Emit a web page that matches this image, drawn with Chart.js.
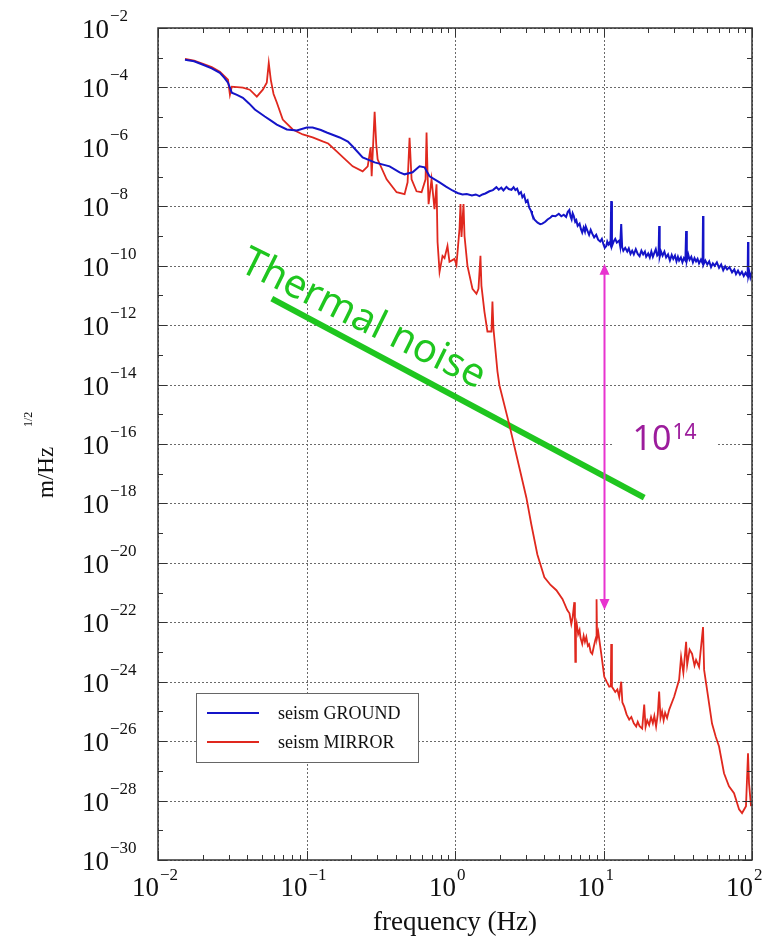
<!DOCTYPE html>
<html>
<head>
<meta charset="utf-8">
<script src="https://cdn.jsdelivr.net/npm/chart.js@4.4.0/dist/chart.umd.min.js"></script>
<style>
  body { margin: 0; background: #fff; }
  #wrap { width: 772px; height: 949px; }
</style>
</head>
<body>
<div id="wrap"><canvas id="seismChart" width="772" height="949"></canvas></div>
<script>
// tick exponents (powers of ten)
const xTickExps = [-2, -1, 0, 1, 2];
const yTickExps = [-2, -4, -6, -8, -10, -12, -14, -16, -18, -20, -22, -24, -26, -28, -30];

// seism GROUND
const groundFreq = [0.0152, 0.0175, 0.0201, 0.023, 0.0261, 0.028, 0.0296, 0.0314, 0.034, 0.0373, 0.041, 0.0449, 0.0524, 0.058, 0.0631, 0.0737, 0.086, 0.1004, 0.11, 0.125, 0.1368, 0.1673, 0.19, 0.2047, 0.2388, 0.2876, 0.3629, 0.4236, 0.4575, 0.5179, 0.5772, 0.6237, 0.674, 0.787, 0.87, 0.962, 1.04, 1.123, 1.2, 1.3, 1.38, 1.461, 1.53, 1.6, 1.706, 1.8, 1.9, 1.97, 2.05, 2.12, 2.22, 2.3, 2.4, 2.48, 2.55, 2.62, 2.7, 2.78, 2.843, 2.92, 3.0, 3.08, 3.162, 3.25, 3.3, 3.42, 3.6, 3.75, 3.873, 4.05, 4.2, 4.4, 4.52, 4.75, 5.0, 5.2, 5.4, 5.6, 5.75, 5.89, 6.0, 6.1, 6.2, 6.3, 6.45, 6.56, 6.7, 6.9, 7.05, 7.19, 7.35, 7.5, 7.6, 7.8, 8.0, 8.2, 8.4, 8.65, 8.93, 9.2, 9.5, 9.75, 10.0, 10.2, 10.44, 10.6, 10.8, 11.0, 11.15, 11.27, 11.4, 11.7, 12.0, 12.3, 12.76, 12.95, 13.16, 13.35, 13.6, 14.0, 14.45, 14.8, 15.2, 15.6, 16.0, 16.5, 17.0, 17.5, 18.0, 18.5, 19.0, 19.38, 20.0, 20.5, 21.0, 21.5, 22.0, 22.5, 23.0, 23.5, 23.7, 23.9, 24.4, 25.0, 25.7, 26.4, 27.2, 28.0, 28.8, 29.5, 30.3, 31.0, 31.7, 32.3, 33.2, 34.0, 34.8, 35.6, 36.0, 36.4, 37.2, 38.0, 39.0, 40.0, 41.0, 42.0, 43.0, 44.0, 45.3, 46.5, 46.8, 47.1, 48.5, 50.0, 51.5, 53.0, 54.5, 56.0, 58.0, 60.0, 62.0, 64.0, 66.0, 68.0, 70.5, 73.4, 76.0, 78.0, 80.5, 83.0, 85.5, 88.0, 90.5, 93.5, 94.0, 94.6, 96.0, 97.5, 99.0, 100];
const groundAmp = [8.5e-4, 7.6e-4, 5.8e-4, 4.4e-4, 3.1e-4, 2.1e-4, 1.44e-4, 6.65e-5, 5.6e-5, 4.5e-5, 2.9e-5, 1.8e-5, 1.05e-5, 7.5e-6, 5.64e-6, 3.84e-6, 3.56e-6, 4.48e-6, 4.48e-6, 3.7e-6, 3.05e-6, 2.07e-6, 1.5e-6, 1.03e-6, 4.43e-7, 3.0e-7, 2.21e-7, 1.39e-7, 1.19e-7, 1.39e-7, 2.21e-7, 2.05e-7, 1.02e-7, 6.4e-8, 4.6e-8, 3.4e-8, 2.8e-8, 2.5e-8, 2.6e-8, 2.3e-8, 2.5e-8, 2.2e-8, 2.5e-8, 2.7e-8, 3.2e-8, 3.5e-8, 4.4e-8, 3.6e-8, 4.2e-8, 3.4e-8, 4.5e-8, 3.8e-8, 3.6e-8, 4.4e-8, 3.5e-8, 3.9e-8, 2.6e-8, 3.0e-8, 2.0e-8, 2.4e-8, 1.4e-8, 1.6e-8, 9.0e-9, 7.0e-9, 5.5e-9, 3.6e-9, 2.8e-9, 2.5e-9, 2.6e-9, 3.0e-9, 3.6e-9, 4.2e-9, 4.8e-9, 4.6e-9, 5.6e-9, 4.6e-9, 5.2e-9, 4.4e-9, 6.5e-9, 7.5e-9, 4.5e-9, 3.6e-9, 5.8e-9, 4.8e-9, 3.0e-9, 3.4e-9, 2.2e-9, 2.6e-9, 1.7e-9, 1.3e-9, 1.9e-9, 1.4e-9, 2.1e-9, 1.5e-9, 1.1e-9, 1.6e-9, 1.2e-9, 9.0e-10, 1.1e-9, 7.5e-10, 6.5e-10, 8.0e-10, 5.2e-10, 4.0e-10, 4.6e-10, 6.5e-10, 5.2e-10, 6.0e-10, 5.0e-10, 1.49e-8, 4.6e-10, 6.5e-10, 8.0e-10, 6.0e-10, 7.0e-10, 4.6e-10, 2.53e-9, 4.2e-10, 3.2e-10, 4.0e-10, 3.0e-10, 3.8e-10, 2.5e-10, 3.2e-10, 2.4e-10, 3.6e-10, 2.5e-10, 2.1e-10, 3.2e-10, 2.4e-10, 3.0e-10, 2.0e-10, 2.6e-10, 1.9e-10, 3.0e-10, 2.0e-10, 2.7e-10, 3.6e-10, 2.2e-10, 2.5e-10, 2.17e-9, 2.0e-10, 3.0e-10, 2.2e-10, 3.0e-10, 1.9e-10, 2.4e-10, 1.5e-10, 2.3e-10, 1.7e-10, 2.2e-10, 1.4e-10, 2.0e-10, 1.5e-10, 1.9e-10, 1.3e-10, 1.8e-10, 1.5e-10, 1.47e-9, 1.5e-10, 2.4e-10, 1.6e-10, 2.0e-10, 1.3e-10, 1.8e-10, 1.4e-10, 1.7e-10, 1.2e-10, 1.6e-10, 1.2e-10, 4.68e-9, 1.1e-10, 1.5e-10, 1.1e-10, 1.4e-10, 9.0e-11, 1.2e-10, 1.0e-10, 1.3e-10, 8.5e-11, 1.1e-10, 7.0e-11, 9.5e-11, 7.5e-11, 9.0e-11, 6.0e-11, 7.5e-11, 5.2e-11, 6.8e-11, 5.0e-11, 6.2e-11, 4.5e-11, 5.8e-11, 4.4e-11, 6.3e-10, 4.5e-11, 6.0e-11, 4.0e-11, 5.2e-11, 4.0e-11];

// seism MIRROR
const mirrorFreq = [0.0152, 0.0175, 0.0201, 0.023, 0.0261, 0.0296, 0.0305, 0.0314, 0.0373, 0.0415, 0.0463, 0.0508, 0.054, 0.0557, 0.0575, 0.06, 0.0631, 0.0692, 0.0808, 0.0944, 0.11, 0.1285, 0.14, 0.1597, 0.18, 0.2047, 0.2388, 0.2583, 0.2704, 0.2747, 0.2876, 0.295, 0.3013, 0.3464, 0.4044, 0.4575, 0.4795, 0.4943, 0.51, 0.5508, 0.5955, 0.6334, 0.6433, 0.6531, 0.664, 0.695, 0.728, 0.751, 0.763, 0.787, 0.824, 0.85, 0.89, 0.918, 0.992, 1.023, 1.072, 1.089, 1.106, 1.141, 1.159, 1.213, 1.311, 1.395, 1.439, 1.484, 1.507, 1.578, 1.654, 1.76, 1.787, 1.815, 1.931, 1.991, 2.323, 2.714, 3.025, 3.266, 3.586, 3.998, 4.4, 4.814, 5.3, 5.7, 5.9, 6.07, 6.2, 6.36, 6.42, 6.46, 6.52, 6.6, 6.75, 6.9, 7.0, 7.19, 7.35, 7.5, 7.66, 7.85, 8.0, 8.2, 8.4, 8.6, 8.8, 8.93, 8.98, 9.05, 9.22, 9.66, 10.12, 10.5, 10.93, 11.2, 11.27, 11.4, 12.0, 12.4, 12.76, 13.16, 13.4, 13.79, 14.3, 14.9, 15.4, 16.0, 16.6, 17.0, 17.5, 18.22, 18.8, 19.2, 19.7, 20.3, 20.9, 21.5, 22.0, 22.6, 23.2, 23.7, 24.2, 24.8, 25.4, 26.0, 26.8, 27.7, 29.9, 32.3, 33.3, 34.5, 36.0, 36.6, 38.0, 39.5, 41.0, 42.0, 44.0, 46.8, 47.6, 49.8, 53.8, 57.0, 60.0, 64.8, 70.0, 75.7, 81.8, 85.7, 91.1, 94.0, 95.5, 98.5];
const mirrorAmp = [9.2e-4, 8.0e-4, 6.2e-4, 4.8e-4, 3.36e-4, 1.81e-4, 5.7e-5, 1.06e-4, 9.8e-5, 8.4e-5, 4.9e-5, 8.4e-5, 1.44e-4, 6.7e-4, 1.8e-4, 6.0e-5, 3.1e-5, 8.3e-6, 3.84e-6, 2.61e-6, 2.07e-6, 1.52e-6, 1.3e-6, 7.0e-7, 4.0e-7, 2.21e-7, 1.5e-7, 2.21e-7, 9.6e-7, 1.02e-7, 1.5e-5, 1.2e-6, 3.8e-7, 8.1e-8, 2.98e-8, 2.55e-8, 6.4e-8, 2.0e-6, 8.1e-8, 3.2e-8, 2.98e-8, 8.1e-8, 3.05e-6, 1.39e-7, 1.18e-8, 8.1e-8, 8.0e-9, 5.5e-8, 6.3e-10, 6.2e-11, 2.14e-10, 1.8e-10, 4.6e-10, 1.35e-10, 1.7e-10, 1.07e-10, 1.72e-9, 1.18e-8, 9.3e-10, 1.18e-8, 1.0e-9, 9.9e-11, 1.68e-11, 1.14e-11, 1.68e-11, 2.14e-10, 2.1e-11, 2.86e-12, 6.1e-13, 6.1e-13, 6.2e-12, 7.7e-13, 2.8e-14, 9.5e-15, 4.4e-16, 1.58e-17, 1.56e-18, 1.95e-19, 1.92e-20, 3.27e-21, 1.8e-21, 1.2e-21, 6.0e-22, 2.57e-22, 2.0e-22, 8.7e-23, 1.5e-22, 4.75e-22, 9.0e-23, 4.7e-24, 6.0e-23, 9.0e-23, 4.0e-23, 5.5e-23, 3.0e-23, 1.86e-23, 3.5e-23, 2.2e-23, 3.2e-23, 1.6e-23, 1.8e-23, 1.0e-23, 8.6e-24, 1.5e-23, 2.5e-23, 3.2e-23, 6.0e-22, 3.0e-23, 4.7e-23, 8.6e-24, 1.46e-24, 1.0e-24, 6.8e-25, 7.0e-25, 1.86e-23, 6.8e-25, 4.5e-25, 5.5e-25, 3.1e-25, 1.0e-24, 2.0e-25, 1.45e-25, 8.0e-26, 5.3e-26, 6.5e-26, 4.0e-26, 3.1e-26, 4.5e-26, 3.2e-26, 2.65e-26, 1.7e-25, 3.0e-26, 5.0e-26, 3.5e-26, 6.5e-26, 4.0e-26, 7.0e-26, 3.1e-26, 8.0e-26, 4.7e-25, 6.0e-26, 1.0e-25, 5.0e-26, 9.0e-26, 6.0e-26, 1.15e-25, 3.1e-25, 1.16e-24, 6.8e-24, 2.0e-24, 2.2e-23, 3.7e-24, 1.2e-23, 8.6e-24, 3.5e-24, 5.4e-24, 3.16e-24, 6.9e-23, 2.5e-24, 5.4e-25, 3.9e-26, 1.4e-26, 6.6e-27, 8.3e-28, 3.0e-28, 1.76e-28, 5.1e-29, 3.8e-29, 6.5e-29, 3.9e-27, 3.8e-28, 6.5e-29];

// thermal noise line (two ends)
const thermalFreq = [0.0584, 18.8];
const thermalAmp = [7.8e-12, 1.56e-18];

// arrow at 10 Hz spanning the 10^14 gap
const arrowFreq = 10;
const arrowAmp = [1.16e-10, 2.57e-22];

const thermalLabel = "Thermal noise";
const gapLabel = ["10", "14"];

const toPoints = (xs, ys) => xs.map((f, i) => ({ x: f, y: ys[i] }));

const serif = '"Liberation Serif", "Times New Roman", serif';
const sans = '"Noto Sans", "Open Sans", sans-serif';

function supText(ctx, base, exp, x, y, baseSize, expSize, dy, align) {
  ctx.font = baseSize + "px " + serif;
  const bw = ctx.measureText(base).width;
  let bx = align === "right" ? x - bw : x;
  ctx.textAlign = "left";
  ctx.fillText(base, bx, y);
  ctx.font = expSize + "px " + serif;
  ctx.fillText(exp, bx + bw + 1, y - dy);
}

const overlay = {
  id: "overlay",
  beforeDatasetsDraw(chart) {
    const { ctx, chartArea: a, scales: { x, y } } = chart;
    ctx.save();
    ctx.strokeStyle = "#6a6a6a";
    ctx.lineWidth = 1;
    ctx.setLineDash([2, 2]);
    ctx.beginPath();
    xTickExps.forEach((e) => {
      const px = Math.round(x.getPixelForValue(10 ** e)) + 0.5;
      ctx.moveTo(px, a.top);
      ctx.lineTo(px, a.bottom);
    });
    yTickExps.forEach((e) => {
      const py = Math.round(y.getPixelForValue(10 ** e)) + 0.5;
      ctx.moveTo(a.left, py);
      ctx.lineTo(a.right, py);
    });
    ctx.stroke();
    ctx.restore();
  },
  afterDatasetsDraw(chart) {
    const { ctx, chartArea: a, scales: { x, y } } = chart;
    ctx.save();

    // frame
    ctx.strokeStyle = "#333";
    ctx.lineWidth = 1.5;
    ctx.strokeRect(a.left, a.top, a.right - a.left, a.bottom - a.top);

    // tick marks
    ctx.lineWidth = 1;
    ctx.beginPath();
    xTickExps.forEach((e) => {
      for (let m = 1; m < 10; m++) {
        const v = m * 10 ** e;
        if (v > 100) break;
        const px = Math.round(x.getPixelForValue(v)) + 0.5;
        const len = m === 1 ? 9 : 5;
        ctx.moveTo(px, a.bottom);
        ctx.lineTo(px, a.bottom - len);
        ctx.moveTo(px, a.top);
        ctx.lineTo(px, a.top + len);
      }
    });
    for (let e = -30; e <= -2; e++) {
      const py = Math.round(y.getPixelForValue(10 ** e)) + 0.5;
      const len = e % 2 === 0 ? 9 : 5;
      ctx.moveTo(a.left, py);
      ctx.lineTo(a.left + len, py);
      ctx.moveTo(a.right, py);
      ctx.lineTo(a.right - len, py);
    }
    ctx.stroke();

    // tick labels
    ctx.fillStyle = "#111";
    ctx.textBaseline = "alphabetic";
    xTickExps.forEach((e) => {
      const px = x.getPixelForValue(10 ** e);
      const exp = e < 0 ? "\u2212" + Math.abs(e) : String(e);
      supText(ctx, "10", exp, px + 1, a.bottom + 36, 27, 17, 16, "right");
    });
    yTickExps.forEach((e) => {
      const py = y.getPixelForValue(10 ** e);
      supText(ctx, "10", "\u2212" + Math.abs(e), 82, py + 10, 27, 17, 17, "left");
    });

    // axis titles
    ctx.font = "27px " + serif;
    ctx.textAlign = "center";
    ctx.fillText("frequency (Hz)", (a.left + a.right) / 2, a.bottom + 70);

    ctx.save();
    ctx.translate(53, 498);
    ctx.rotate(-Math.PI / 2);
    ctx.textAlign = "left";
    ctx.font = "23px " + serif;
    ctx.fillText("m/Hz", 0, 0);
    ctx.font = "12px " + serif;
    ctx.fillText("1/2", 71, -21);
    ctx.restore();

    // legend
    const lx = 196, ly = 693;
    ctx.strokeStyle = "#666";
    ctx.lineWidth = 1;
    ctx.fillStyle = "#fff";
    ctx.fillRect(lx, ly, 222, 69);
    ctx.strokeRect(lx + 0.5, ly + 0.5, 222, 69);
    ctx.font = "18px " + serif;
    ctx.textAlign = "left";
    chart.data.datasets.slice(0, 2).forEach((ds, i) => {
      const yy = ly + 20 + i * 29;
      ctx.strokeStyle = ds.borderColor;
      ctx.lineWidth = 2;
      ctx.beginPath();
      ctx.moveTo(lx + 11, yy);
      ctx.lineTo(lx + 63, yy);
      ctx.stroke();
      ctx.fillStyle = "#111";
      ctx.fillText(ds.label, lx + 82, yy + 6);
    });

    // arrow
    const ax = Math.round(x.getPixelForValue(arrowFreq)) + 0.5;
    const ay1 = y.getPixelForValue(arrowAmp[0]);
    const ay2 = y.getPixelForValue(arrowAmp[1]);
    ctx.strokeStyle = "#e833cf";
    ctx.fillStyle = "#e833cf";
    ctx.lineWidth = 2;
    ctx.beginPath();
    ctx.moveTo(ax, ay1 + 6);
    ctx.lineTo(ax, ay2 - 6);
    ctx.stroke();
    ctx.beginPath();
    ctx.moveTo(ax, ay1);
    ctx.lineTo(ax - 5, ay1 + 11);
    ctx.lineTo(ax + 5, ay1 + 11);
    ctx.closePath();
    ctx.moveTo(ax, ay2);
    ctx.lineTo(ax - 5, ay2 - 11);
    ctx.lineTo(ax + 5, ay2 - 11);
    ctx.closePath();
    ctx.fill();

    // 10^14 label on white patch
    const gy = y.getPixelForValue(1e-16);
    ctx.fillStyle = "#fff";
    ctx.fillRect(ax + 9, gy - 42, 103, 66);
    ctx.fillStyle = "#9c1c9c";
    ctx.font = "34px " + sans;
    ctx.fillText(gapLabel[0], ax + 28, gy + 6);
    const w10 = ctx.measureText(gapLabel[0]).width;
    ctx.font = "21px " + sans;
    ctx.fillText(gapLabel[1], ax + 28 + w10 + 1, gy - 5);

    // thermal noise label
    const tx0 = x.getPixelForValue(thermalFreq[0]);
    const ty0 = y.getPixelForValue(thermalAmp[0]);
    const tx1 = x.getPixelForValue(thermalFreq[1]);
    const ty1 = y.getPixelForValue(thermalAmp[1]);
    const ang = Math.atan2(ty1 - ty0, tx1 - tx0) - 0.03;
    ctx.save();
    ctx.translate(tx0 + 86, ty0 + 31);
    ctx.rotate(ang);
    ctx.fillStyle = "#1fc61f";
    ctx.font = "40px " + sans;
    ctx.textAlign = "center";
    ctx.fillText(thermalLabel, 0, 0);
    ctx.restore();

    ctx.restore();
  },
};

new Chart(document.getElementById("seismChart"), {
  type: "line",
  data: {
    datasets: [
      {
        label: "seism GROUND",
        data: toPoints(groundFreq, groundAmp),
        borderColor: "#1414c8",
        borderWidth: 2,
        pointRadius: 0,
        tension: 0,
      },
      {
        label: "seism MIRROR",
        data: toPoints(mirrorFreq, mirrorAmp),
        borderColor: "#e0281e",
        borderWidth: 1.8,
        pointRadius: 0,
        tension: 0,
      },
      {
        label: "Thermal noise",
        data: toPoints(thermalFreq, thermalAmp),
        borderColor: "#1fc61f",
        borderWidth: 6,
        borderCapStyle: "butt",
        pointRadius: 0,
      },
    ],
  },
  options: {
    responsive: false,
    animation: false,
    devicePixelRatio: 1,
    layout: { padding: { left: 158, top: 28, right: 20, bottom: 89 } },
    plugins: { legend: { display: false }, tooltip: { enabled: false } },
    scales: {
      x: { type: "logarithmic", min: 0.01, max: 100, display: false },
      y: { type: "logarithmic", min: 1e-30, max: 1e-2, display: false },
    },
  },
  plugins: [overlay],
});
</script>
</body>
</html>
